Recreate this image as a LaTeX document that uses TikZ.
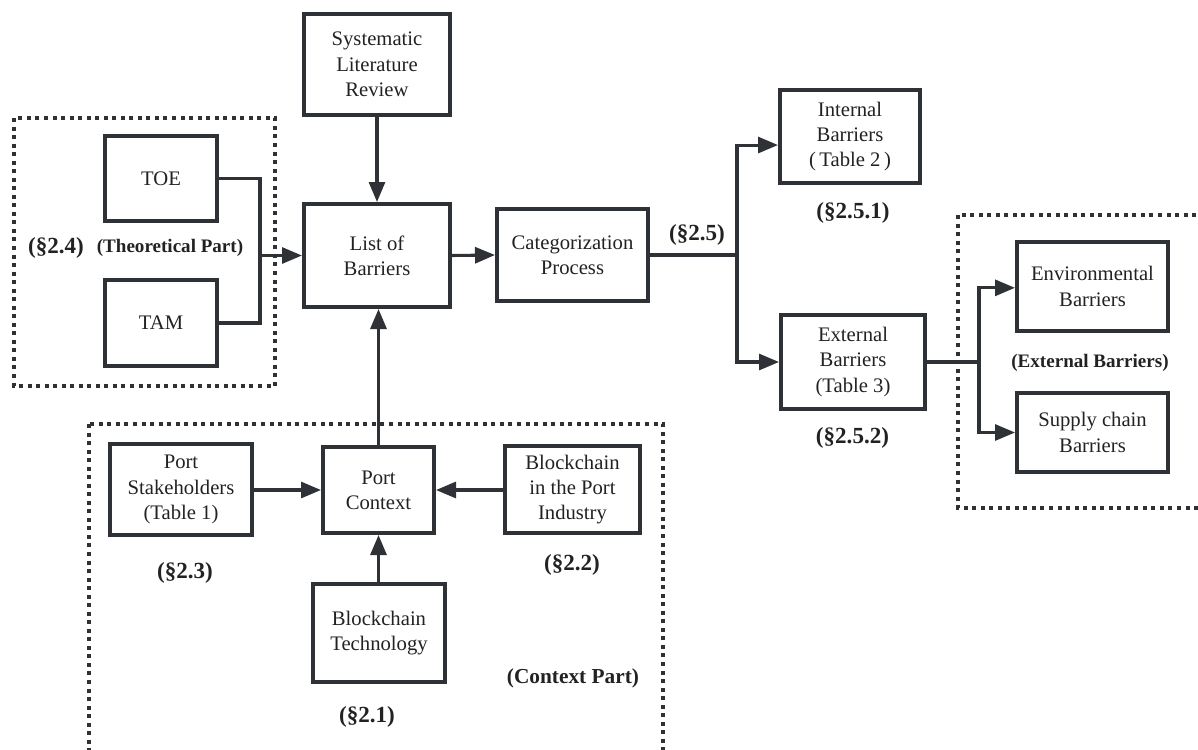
\documentclass[tikz,border=0pt]{standalone}
\usepackage{fontspec}
\setmainfont{Liberation Serif}
\usetikzlibrary{arrows.meta}
\definecolor{ink}{HTML}{2E3236}
\definecolor{txt}{HTML}{222222}
\tikzset{
  boxst/.style={draw=ink, line width=2.7pt, fill=white, align=center, inner sep=2pt,
    text=txt, font=\fontsize{15.5}{19}\selectfont},
  arr/.style={draw=ink, line width=2.3pt, -{Triangle[length=15pt,width=12pt]}},
  link/.style={draw=ink, line width=2.3pt},
  frame/.style={draw=ink, line width=2.8pt, dash pattern=on 3pt off 3.4pt},
  sect/.style={text=txt, font=\bfseries\fontsize{17.3}{20}\selectfont},
  part/.style={text=txt, font=\bfseries\fontsize{14.3}{17}\selectfont},
}
% #1 name, #2 x, #3 y, #4 width, #5 height (pixels), #6 text
\newcommand\bx[6]{\node[boxst, minimum width=#4*0.75pt-2.7pt, minimum height=#5*0.75pt-2.7pt] (#1) at (#2,#3) {#6};}
\begin{document}
\begin{tikzpicture}[x=0.75pt, y=-0.75pt]
\useasboundingbox (0,0) rectangle (1198,749);

% dotted grouping frames
\draw[frame] (14,118) rectangle (275,386);
\draw[frame] (958,215) rectangle (1215,508);
\draw[frame] (89,424) rectangle (663,770);

% boxes
\bx{slr}{377}{64.5}{150}{105}{Systematic\\Literature\\Review}
\bx{lob}{377}{255.5}{150}{107}{List of\\Barriers}
\bx{cat}{572.5}{255}{155}{96}{Categorization\\Process}
\bx{toe}{161}{178.5}{116}{89}{TOE}
\bx{tam}{161}{323}{116}{90}{TAM}
\bx{ib}{850}{136.5}{144}{97}{Internal\\Barriers\\(\,Table 2\,)}
\bx{eb}{853}{362}{148}{98}{External\\Barriers\\(Table 3)}
\bx{env}{1092.5}{286.5}{155}{93}{Environmental\\Barriers}
\bx{sc}{1092.5}{432.5}{155}{83}{Supply chain\\Barriers}
\bx{ps}{181}{489.5}{146}{95}{Port\\Stakeholders\\(Table 1)}
\bx{pc}{378.5}{490}{115}{90}{Port\\Context}
\bx{bpi}{572.5}{489.5}{139}{91}{Blockchain\\in the Port\\Industry}
\bx{bt}{379}{633}{136}{102}{Blockchain\\Technology}

% junction points
\coordinate (j1) at (260,255.5);
\coordinate (j2) at (737,255);
\coordinate (j3) at (979,362);

% connectors
\draw[arr] (slr.south) -- (lob.north);
\draw[arr] (lob.east) -- (cat.west);
\draw[link] (toe.east) -| (j1) |- (tam.east);
\draw[arr] (j1) -- (lob.west);
\draw[link] (cat.east) -- (j2);
\draw[arr] (j2) |- ([yshift=-6.4pt]ib.west);
\draw[arr] (j2) |- (eb.west);
\draw[link] (eb.east) -- (j3);
\draw[arr] (j3) |- ([yshift=-1pt]env.west);
\draw[arr] (j3) |- (sc.west);
\draw[arr] (ps.east |- pc.west) -- (pc.west);
\draw[arr] (bpi.west |- pc.east) -- (pc.east);
\draw[arr] (bt.north -| pc.south) -- (pc.south);
\draw[arr] (pc.north) -- (pc.north |- lob.south);

% section labels
\node[sect] (s24) at (56,248) {(§2.4)};
\node[part] (tp) at (170,248) {(Theoretical Part)};
\node[sect] (s25) at (697,235) {(§2.5)};
\node[sect] (s251) at (853,213) {(§2.5.1)};
\node[sect] (s252) at (852.5,438) {(§2.5.2)};
\node[part] (ebl) at (1090,363) {(External Barriers)};
\node[sect] (s23) at (185,573) {(§2.3)};
\node[sect] (s22) at (572,565) {(§2.2)};
\node[sect] (s21) at (367,717) {(§2.1)};
\node[sect, font=\bfseries\fontsize{16}{19}\selectfont] (cp) at (573,678) {(Context Part)};
\end{tikzpicture}
\end{document}
